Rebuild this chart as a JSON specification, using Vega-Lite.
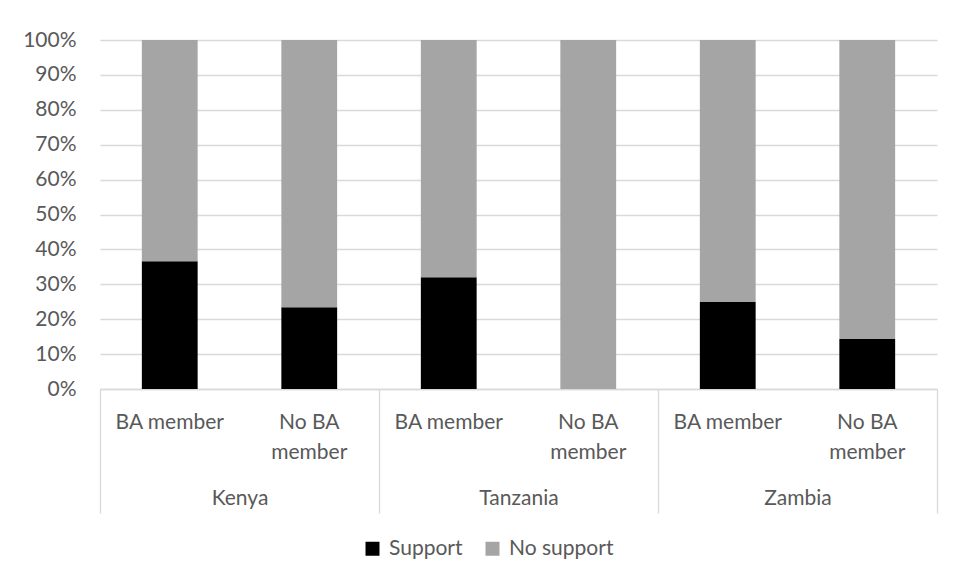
{
  "$schema": "https://vega.github.io/schema/vega-lite/v6.json",
  "width": 837,
  "height": 349,
  "autosize": {"type": "none"},
  "padding": {"left": 100, "top": 40, "right": 17, "bottom": 192},
  "background": "white",
  "config": {
    "view": {"stroke": null},
    "font": "Lato",
    "axis": {"labelFont": "Lato", "labelFontSize": 21, "labelColor": "#595959", "titleFont": "Lato"},
    "legend": {"labelFont": "Lato", "labelFontSize": 21, "labelColor": "#595959"}
  },
  "data": {
    "values": [
      {"country": "Kenya", "key": "Kenya|BA member", "status": "Support", "pct": 36.6},
      {"country": "Kenya", "key": "Kenya|BA member", "status": "No support", "pct": 63.4},
      {"country": "Kenya", "key": "Kenya|No BA member", "status": "Support", "pct": 23.4},
      {"country": "Kenya", "key": "Kenya|No BA member", "status": "No support", "pct": 76.6},
      {"country": "Tanzania", "key": "Tanzania|BA member", "status": "Support", "pct": 32.0},
      {"country": "Tanzania", "key": "Tanzania|BA member", "status": "No support", "pct": 68.0},
      {"country": "Tanzania", "key": "Tanzania|No BA member", "status": "Support", "pct": 0},
      {"country": "Tanzania", "key": "Tanzania|No BA member", "status": "No support", "pct": 100},
      {"country": "Zambia", "key": "Zambia|BA member", "status": "Support", "pct": 24.9},
      {"country": "Zambia", "key": "Zambia|BA member", "status": "No support", "pct": 75.1},
      {"country": "Zambia", "key": "Zambia|No BA member", "status": "Support", "pct": 14.3},
      {"country": "Zambia", "key": "Zambia|No BA member", "status": "No support", "pct": 85.7}
    ]
  },
  "layer": [
    {
      "mark": {"type": "bar"},
      "encoding": {
        "x": {
          "field": "key",
          "type": "nominal",
          "sort": null,
          "scale": {"type": "band", "paddingInner": 0.6, "paddingOuter": 0.3},
          "axis": {
            "orient": "bottom",
            "title": null,
            "ticks": false,
            "tickSize": 0,
            "domain": true,
            "domainColor": "#d9d9d9",
            "domainWidth": 1.3,
            "labelAngle": 0,
            "labelAlign": "center",
            "labelBaseline": "top",
            "labelPadding": 22,
            "labelLineHeight": 30,
            "labelOverlap": false,
            "labelExpr": "indexof(datum.value, 'No BA') >= 0 ? ['No BA', 'member'] : 'BA member'"
          }
        },
        "y": {
          "field": "pct",
          "type": "quantitative",
          "stack": "normalize",
          "scale": {"domain": [0, 1], "nice": false},
          "axis": {
            "title": null,
            "format": ".0%",
            "values": [0, 0.1, 0.2, 0.3, 0.4, 0.5, 0.6, 0.7, 0.8, 0.9, 1],
            "domain": false,
            "ticks": false,
            "labelPadding": 24,
            "grid": true,
            "gridColor": "#d9d9d9",
            "gridWidth": 1.3
          }
        },
        "color": {
          "field": "status",
          "type": "nominal",
          "sort": ["Support", "No support"],
          "scale": {"domain": ["Support", "No support"], "range": ["#000000", "#a5a5a5"]},
          "legend": {
            "title": null,
            "orient": "none",
            "direction": "horizontal",
            "legendX": 262,
            "legendY": 498,
            "symbolType": "square",
            "symbolSize": 196,
            "symbolStrokeWidth": 0,
            "labelOffset": 6,
            "columnPadding": 19
          }
        }
      }
    },
    {
      "mark": {"type": "rule", "opacity": 0},
      "encoding": {
        "x": {
          "field": "country",
          "type": "nominal",
          "sort": null,
          "scale": {"type": "band", "paddingInner": 0, "paddingOuter": 0},
          "axis": {
            "orient": "bottom",
            "title": null,
            "domain": false,
            "ticks": true,
            "tickBand": "extent",
            "tickSize": 124,
            "tickColor": "#d9d9d9",
            "tickWidth": 1.3,
            "labelAngle": 0,
            "labelAlign": "center",
            "labelBaseline": "top",
            "labelPadding": -26
          }
        }
      }
    }
  ],
  "resolve": {"scale": {"x": "independent"}, "axis": {"x": "independent"}}
}
